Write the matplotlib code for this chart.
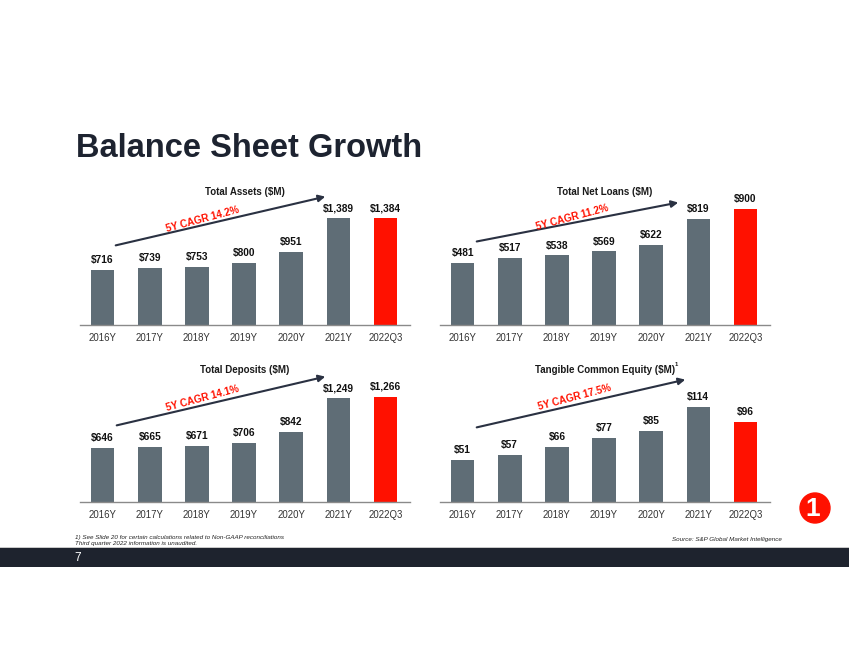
import matplotlib
matplotlib.use("Agg")
import matplotlib.pyplot as plt
from matplotlib.patches import FancyArrowPatch, Circle, Rectangle

plt.rcParams['font.family'] = ['Liberation Sans', 'DejaVu Sans']

categories = ["2016Y", "2017Y", "2018Y", "2019Y", "2020Y", "2021Y", "2022Q3"]
total_assets = [716, 739, 753, 800, 951, 1389, 1384]
total_net_loans = [481, 517, 538, 569, 622, 819, 900]
total_deposits = [646, 665, 671, 706, 842, 1249, 1266]
tangible_equity = [51, 57, 66, 77, 85, 114, 96]
chart_titles = ["Total Assets ($M)", "Total Net Loans ($M)", "Total Deposits ($M)", "Tangible Common Equity ($M)"]
cagr_labels = ["5Y CAGR 14.2%", "5Y CAGR 11.2%", "5Y CAGR 14.1%", "5Y CAGR 17.5%"]

W, H = 849, 656
fig = plt.figure(figsize=(W / 100, H / 100), dpi=100)
fig.patch.set_facecolor("white")

GRAY = "#5f6d76"
RED = "#ff1100"
NAVY = "#1d2330"

def fx(x):
    return x / W

def fy(y):
    return 1 - y / H

# panel layout: (left px, right px, baseline px, ymax, title center y, arrow start, arrow end, cagr center)
panels = [
    (total_assets, 80, 410, 325, 1817, 192, (113, 246), (328, 196), (203, 219)),
    (total_net_loans, 440, 770, 325, 1083, 192, (474, 242), (681, 202), (572, 217)),
    (total_deposits, 80, 410, 502, 1683, 370, (114, 426), (328, 376), (203, 398)),
    (tangible_equity, 440, 770, 502, 168, 370, (474, 428), (688, 379), (575, 397)),
]

axh = 140
for i, (vals, x0, x1, yb, ymax, ty, a0, a1, cc) in enumerate(panels):
    ax = fig.add_axes([fx(x0), fy(yb), (x1 - x0) / W, axh / H])
    colors = [GRAY] * (len(vals) - 1) + [RED]
    xs = list(range(len(vals)))
    ax.bar(xs, vals, width=0.5, color=colors, zorder=2)
    ax.set_xlim(-0.48, 6.52)
    ax.set_ylim(0, ymax)
    for x, v in zip(xs, vals):
        ax.annotate(f"${v:,}", (x, v), xytext=(0, 3.5), textcoords="offset points",
                    ha="center", va="bottom", fontsize=7.3, fontweight="bold", color="#111111")
    ax.set_xticks(xs)
    ax.set_xticklabels(categories, fontsize=6.9, color="#333333")
    ax.tick_params(axis="x", length=0, pad=5.5)
    ax.set_yticks([])
    for s in ["top", "right", "left"]:
        ax.spines[s].set_visible(False)
    ax.spines["bottom"].set_color("#8a8a8a")
    ax.spines["bottom"].set_linewidth(1.0)
    ax.patch.set_alpha(0)

    cx = (x0 + x1) / 2
    fig.text(fx(cx), fy(ty), chart_titles[i], ha="center", va="center",
             fontsize=7.0, fontweight="bold", color="#1a1a1a")
    if i == 3:
        fig.text(fx(676), fy(364), "1", ha="center", va="center", fontsize=4.2,
                 fontweight="bold", color="#1a1a1a")

    arr = FancyArrowPatch((fx(a0[0]), fy(a0[1])), (fx(a1[0]), fy(a1[1])),
                          transform=fig.transFigure, arrowstyle="-|>",
                          mutation_scale=10, lw=1.5, color="#2a3142")
    fig.add_artist(arr)
    fig.text(fx(cc[0]), fy(cc[1]), cagr_labels[i], ha="center", va="center",
             rotation=15, fontsize=7.2, fontweight="bold", color=RED, rotation_mode="anchor")

# title
fig.text(fx(76), fy(157), "Balance Sheet Growth", ha="left", va="baseline",
         fontsize=23.5, fontweight="bold", color=NAVY)

# footnotes
fig.text(fx(75), fy(537), "1) See Slide 20 for certain calculations related to Non-GAAP reconciliations",
         ha="left", va="center", fontsize=4.5, style="italic", color="#222222")
fig.text(fx(75), fy(544), "Third quarter 2022 information is unaudited.",
         ha="left", va="center", fontsize=4.5, style="italic", color="#222222")
fig.text(fx(782), fy(539), "Source: S&P Global Market Intelligence",
         ha="right", va="center", fontsize=4.5, style="italic", color="#222222")

# bottom bar
fig.add_artist(Rectangle((0, fy(567)), 1, (567 - 547) / H, transform=fig.transFigure,
                         facecolor="#1e232e", edgecolor="none"))
fig.add_artist(Rectangle((0, fy(548)), 1, 1.2 / H, transform=fig.transFigure,
                         facecolor="#c8c8c8", edgecolor="none"))
fig.text(fx(78), fy(558), "7", ha="center", va="center", fontsize=8.5, color="white")

# logo
lax = fig.add_axes([fx(795), fy(529), 40 / W, 40 / H])
lax.set_xlim(0, 40)
lax.set_ylim(0, 40)
lax.set_aspect("equal")
lax.axis("off")
lax.add_patch(Circle((20, 21), 15, color=RED))
lax.text(17.5, 20, "1", ha="center", va="center", fontsize=19, fontweight="bold", color="white")

fig.savefig("out.png", dpi=100, facecolor="white")
